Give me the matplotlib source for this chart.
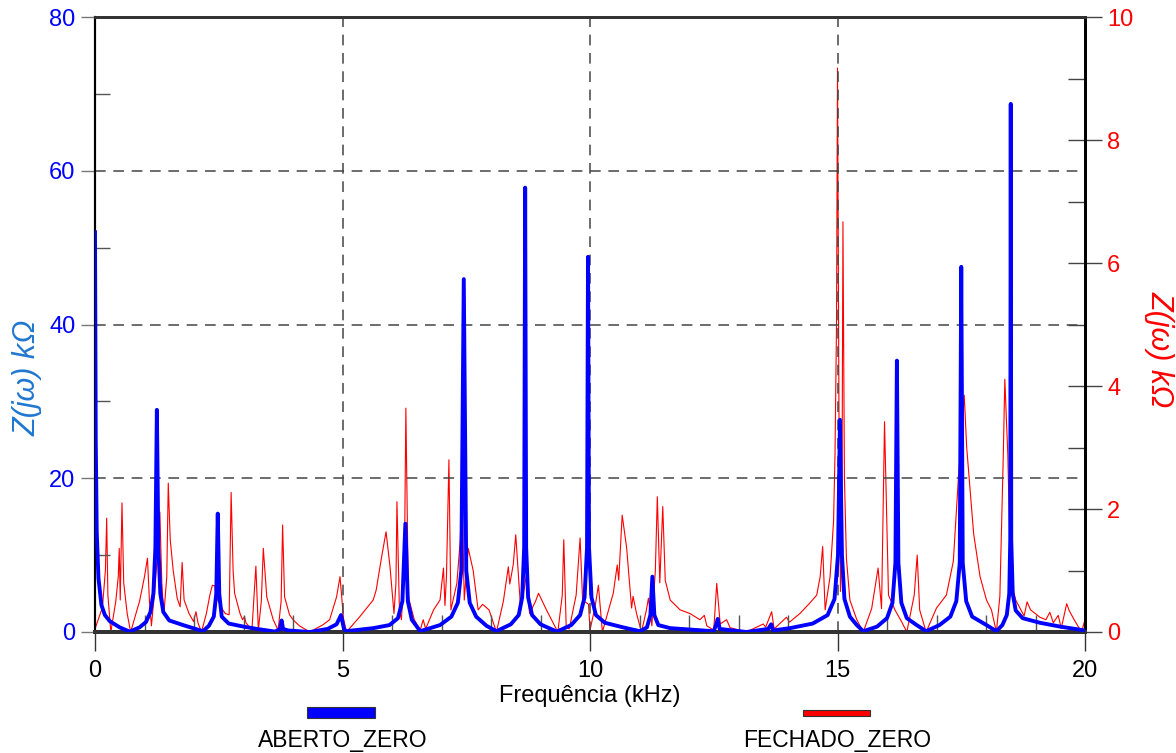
import matplotlib
matplotlib.use("Agg")
import matplotlib.pyplot as plt
from matplotlib.patches import Rectangle
from matplotlib.ticker import MultipleLocator

plt.rcParams['font.family'] = ['Liberation Sans', 'DejaVu Sans']

# ABERTO_ZERO (left axis, kOhm)
aberto_f = [0.0, 0.015, 0.035, 0.07, 0.13, 0.2, 0.3, 0.5, 0.7, 0.9, 1.03, 1.12, 1.18, 1.22, 1.25,
            1.28, 1.32, 1.38, 1.5, 1.78, 2.18, 2.3, 2.4, 2.45, 2.48, 2.51, 2.56, 2.7, 3.0, 3.27,
            3.64, 3.74, 3.77, 3.80, 3.9, 4.34, 4.7, 4.88, 4.97, 5.03, 5.07, 5.62, 5.95, 6.12, 6.21,
            6.27, 6.32, 6.4, 6.57, 6.97, 7.2, 7.33, 7.4, 7.45, 7.5, 7.57, 7.7, 7.91, 8.11, 8.4,
            8.56, 8.63, 8.67, 8.69, 8.71, 8.75, 8.83, 9.0, 9.33, 9.62, 9.8, 9.89, 9.94, 9.96, 9.98,
            10.03, 10.12, 10.3, 10.67, 11.01, 11.15, 11.22, 11.26, 11.30, 11.38, 11.62, 12.5, 12.55,
            12.58, 12.62, 13.16, 13.6, 13.66, 13.7, 14.04, 14.5, 14.8, 14.94, 15.01, 15.05, 15.09,
            15.14, 15.25, 15.39, 15.52, 15.8, 16.0, 16.11, 16.17, 16.2, 16.23, 16.29, 16.4, 16.6,
            16.79, 17.06, 17.28, 17.4, 17.47, 17.5, 17.53, 17.6, 17.72, 18.01, 18.21, 18.33, 18.42,
            18.47, 18.49, 18.5, 18.51, 18.54, 18.6, 18.74, 19.09, 19.5, 19.9, 20.0]
aberto_z = [52, 25, 13, 7, 3.5, 2.2, 1.4, 0.6, 0.05, 0.6, 1.3, 2.6, 5, 11, 28.9,
            11, 5, 2.6, 1.5, 0.9, 0.1, 0.8, 2.0, 5, 15.4, 5, 2.0, 1.1, 0.7, 0.4,
            0.05, 0.4, 1.5, 0.4, 0.2, 0.0, 0.4, 1.0, 2.2, 0.4, 0.1, 0.5, 0.9, 1.8, 4,
            14.1, 4, 1.6, 0.1, 0.9, 2.0, 3.8, 8, 45.9, 8, 3.8, 2.0, 0.8, 0.1, 1.0,
            2.2, 4.5, 11, 57.8, 11, 4.5, 2.2, 1.0, 0.05, 0.9, 2.2, 4.5, 11, 48.8, 11,
            4.5, 2.2, 1.2, 0.6, 0.1, 0.6, 2.2, 7.2, 2.2, 0.9, 0.5, 0.1, 1.0,
            1.7, 0.4, 0.0, 0.4, 1.0, 0.2, 0.5, 1.1, 2.2, 4.3, 10, 27.6, 10,
            4.3, 2.0, 0.9, 0.1, 0.7, 1.8, 3.8, 9, 35.3, 9, 3.8, 1.8, 0.9,
            0.1, 0.9, 2.0, 4.0, 9, 47.5, 9, 4.0, 2.0, 0.9, 0.1, 0.9, 2.2,
            5, 12, 68.7, 12, 5, 2.8, 1.8, 1.2, 0.7, 0.3, 0.2]

# FECHADO_ZERO (right axis, kOhm)
fechado_f = [0.0, 0.15, 0.21, 0.236, 0.26, 0.32, 0.42, 0.47, 0.49, 0.51, 0.545, 0.58, 0.65, 0.72,
             0.9, 1.0, 1.06, 1.1, 1.14, 1.22, 1.28, 1.31, 1.35, 1.39, 1.45, 1.48, 1.52, 1.58, 1.66,
             1.72, 1.76, 1.80, 1.90, 1.99, 2.04, 2.08, 2.15, 2.25, 2.32, 2.37, 2.42, 2.45, 2.55, 2.63,
             2.71, 2.75, 2.79, 2.82, 2.93, 2.98, 3.02, 3.05, 3.17, 3.25, 3.30, 3.36, 3.40, 3.47, 3.60,
             3.70, 3.76, 3.79, 3.83, 3.93, 4.00, 4.13, 4.34, 4.61, 4.74, 4.88, 4.95, 5.02, 5.08, 5.35,
             5.62, 5.68, 5.79, 5.88, 5.96, 6.04, 6.08, 6.10, 6.15, 6.19, 6.25, 6.28, 6.33, 6.45, 6.57,
             6.63, 6.68, 6.84, 6.97, 7.04, 7.07, 7.1, 7.15, 7.19, 7.31, 7.38, 7.41, 7.46, 7.54, 7.64,
             7.74, 7.83, 7.96, 8.11, 8.25, 8.35, 8.38, 8.45, 8.5, 8.6, 8.71, 8.78, 8.9, 8.96, 9.12,
             9.35, 9.44, 9.47, 9.52, 9.58, 9.72, 9.80, 9.85, 9.97, 10.0, 10.1, 10.17, 10.25, 10.47,
             10.55, 10.58, 10.65, 10.74, 10.84, 10.87, 10.94, 11.04, 11.14, 11.18, 11.25, 11.32, 11.36,
             11.41, 11.47, 11.52, 11.62, 11.82, 12.02, 12.22, 12.31, 12.36, 12.5, 12.56, 12.63, 12.76,
             12.83, 13.16, 13.5, 13.55, 13.67, 13.72, 13.97, 14.03, 14.24, 14.44, 14.58, 14.65, 14.7,
             14.75, 14.85, 14.92, 14.95, 14.98, 15.0, 15.03, 15.06, 15.09, 15.11, 15.14, 15.18, 15.25,
             15.39, 15.52, 15.69, 15.82, 15.89, 15.95, 16.03, 16.16, 16.3, 16.4, 16.55, 16.61, 16.66,
             16.79, 17.0, 17.2, 17.34, 17.44, 17.56, 17.61, 17.75, 17.88, 18.01, 18.11, 18.21, 18.28,
             18.35, 18.38, 18.44, 18.5, 18.6, 18.77, 18.83, 18.9, 19.09, 19.21, 19.29, 19.36, 19.46,
             19.52, 19.63, 19.68, 19.78, 19.93, 20.0]
fechado_z = [0.05, 0.4, 1.0, 1.85, 0.6, 0.0, 0.5, 0.9, 1.36, 0.52, 2.1, 0.8, 0.3, 0.0,
             0.5, 0.9, 1.2, 0.5, 0.1, 0.8, 1.5, 1.95, 0.8, 0.28, 0.9, 2.42, 1.5, 1.0, 0.55,
             0.41, 1.13, 0.52, 0.3, 0.17, 0.33, 0.15, 0.0, 0.3, 0.6, 0.76, 0.75, 0.57, 0.4, 0.3,
             0.28, 2.27, 1.0, 0.63, 0.3, 0.2, 0.25, 0.15, 0.03, 1.07, 0.03, 0.5, 1.36, 0.57, 0.2,
             0.03, 0.5, 1.74, 0.57, 0.28, 0.2, 0.1, 0.0, 0.12, 0.2, 0.57, 0.9, 0.22, 0.0, 0.25,
             0.52, 0.68, 1.22, 1.63, 1.06, 0.3, 0.8, 2.12, 0.36, 0.2, 1.0, 3.64, 0.57, 0.2, 0.03,
             0.2, 0.05, 0.36, 0.52, 1.04, 0.43, 0.9, 2.8, 0.36, 0.79, 1.5, 2.5, 0.52, 1.36, 1.0,
             0.36, 0.45, 0.36, 0.0, 0.5, 1.06, 0.78, 1.1, 1.58, 0.36, 0.9, 0.3, 0.5, 0.63, 0.36,
             0.0, 0.6, 1.5, 0.07, 0.05, 0.6, 1.53, 0.52, 0.45, 0.03, 0.4, 0.76, 0.0, 0.63,
             1.09, 0.84, 1.9, 1.37, 0.39, 0.58, 0.3, 0.0, 0.36, 0.55, 0.1, 1.0, 2.2,
             0.8, 2.04, 0.84, 0.52, 0.36, 0.3, 0.2, 0.27, 0.1, 0.03, 0.79, 0.13, 0.2,
             0.07, 0.0, 0.13, 0.08, 0.33, 0.05, 0.24, 0.16, 0.3, 0.47, 0.6, 0.9, 1.39,
             0.36, 0.9, 1.8, 2.9, 5.0, 9.17, 3.5, 0.66, 2.0, 6.67, 2.5, 1.2, 0.52,
             0.2, 0.0, 0.38, 1.04, 0.38, 3.42, 0.6, 0.36, 0.16, 0.0, 0.6, 1.25, 0.36,
             0.0, 0.39, 0.6, 1.15, 2.47, 3.85, 3.0, 1.6, 0.9, 0.52, 0.36, 0.0, 0.58,
             2.9, 4.11, 2.9, 0.84, 0.52, 0.26, 0.49, 0.36, 0.24, 0.2, 0.32, 0.15, 0.27,
             0.06, 0.46, 0.35, 0.2, 0.0, 0.2]

legend_labels = ['ABERTO_ZERO', 'FECHADO_ZERO']
blue = '#0000ff'
red = '#ff0000'

W, H = 1176, 753
fig = plt.figure(figsize=(W / 100, H / 100), dpi=100)
ax = fig.add_axes([95 / W, 1 - 632 / H, 990 / W, 615 / H])
ax2 = ax.twinx()

ax.plot(aberto_f, aberto_z, color=blue, lw=2.8, zorder=3, solid_joinstyle='round')
ax2.plot(fechado_f, fechado_z, color=red, lw=0.8, zorder=2)
ax.set_zorder(ax2.get_zorder() + 1)
ax.patch.set_visible(False)

ax.set_xlim(0, 20)
ax.set_ylim(0, 80)
ax2.set_ylim(0, 10)

ax.xaxis.set_major_locator(MultipleLocator(5))
ax.xaxis.set_minor_locator(MultipleLocator(1))
ax.yaxis.set_major_locator(MultipleLocator(20))
ax.yaxis.set_minor_locator(MultipleLocator(10))
ax2.yaxis.set_major_locator(MultipleLocator(2))
ax2.yaxis.set_minor_locator(MultipleLocator(1))

ax.grid(True, which='major', color='#444444', lw=1.1, linestyle=(0, (7, 5)))

ax.tick_params(axis='x', which='major', direction='out', length=14, width=1, color='#333333',
               labelsize=17, pad=6)
ax.tick_params(axis='x', which='minor', direction='in', length=12, width=1, color='#555555')
ax.tick_params(axis='y', which='major', direction='out', length=10, width=1, color='#777777',
               labelsize=17, labelcolor=blue, pad=4)
ax.tick_params(axis='y', which='minor', direction='in', length=11, width=1, color='#555555')
ax2.tick_params(axis='y', which='major', direction='inout', length=24, width=1, color='#444444',
                labelsize=17, labelcolor=red, pad=4)
ax2.tick_params(axis='y', which='minor', direction='in', length=12, width=1, color='#444444')

for a in (ax, ax2):
    a.spines['top'].set_color('#333333')
    a.spines['top'].set_linewidth(2)
    a.spines['bottom'].set_color('#333333')
    a.spines['bottom'].set_linewidth(2.8)
    a.spines['left'].set_color('black')
    a.spines['left'].set_linewidth(1.5)
    a.spines['right'].set_color('black')
    a.spines['right'].set_linewidth(2)

ax.set_xlabel('Frequência (kHz)', fontsize=17, labelpad=2)
ax.set_ylabel('Z(jω) kΩ', fontsize=22, style='italic', color='#1f77d0')
ax.yaxis.set_label_coords(-0.053, 0.413)
ax2.set_ylabel('Z(jω) kΩ', fontsize=22, style='italic', color=red, rotation=270)
ax2.yaxis.set_label_coords(1.09, 0.46)

# legend drawn below the axis: colour bar on top, label underneath
fig.patches.append(Rectangle((307 / W, 1 - 718 / H), 68 / W, 11 / H, transform=fig.transFigure,
                             facecolor=blue, edgecolor='#333333', lw=0.8))
fig.patches.append(Rectangle((803 / W, 1 - 716 / H), 67 / W, 6 / H, transform=fig.transFigure,
                             facecolor=red, edgecolor='#333333', lw=0.8))
fig.text(343 / W, 1 - 741 / H, legend_labels[0], ha='center', va='center', fontsize=16.5)
fig.text(837 / W, 1 - 741 / H, legend_labels[1], ha='center', va='center', fontsize=16.5)

fig.savefig('out.png', dpi=100)
